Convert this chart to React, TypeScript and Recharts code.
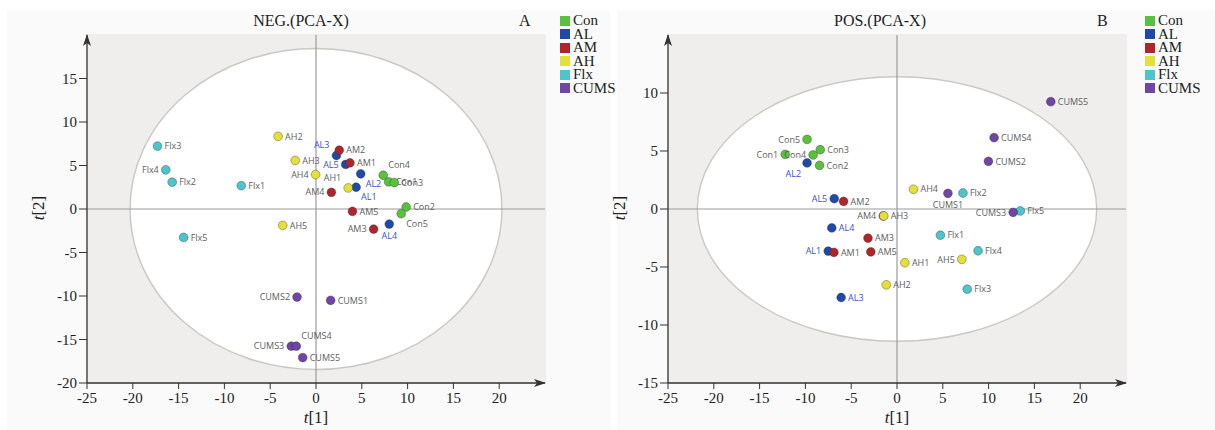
import React from 'react';
import { ScatterChart, Scatter, XAxis, YAxis, CartesianGrid, ReferenceArea, ReferenceLine } from 'recharts';

// ---------- categories / legend ----------
const groups = ['Con', 'AL', 'AM', 'AH', 'Flx', 'CUMS'];
const groupColors = ['#58c23c', '#1f4aa8', '#af252b', '#e4e03a', '#4cc5cb', '#6f46a6'];

// ---------- NEG (PCA-X) scores: [t1, t2] ----------
const negCon: [number, number][] = [[7.93, 3.12], [9.84, 0.23], [8.55, 3.04], [7.34, 3.88], [9.3, -0.54]];
const negAL: [number, number][] = [[4.38, 2.5], [4.88, 4.04], [2.23, 6.15], [8.0, -1.73], [3.24, 5.12]];
const negAM: [number, number][] = [[3.71, 5.31], [2.54, 6.77], [6.29, -2.31], [1.68, 1.92], [3.98, -0.27]];
const negAH: [number, number][] = [[3.52, 2.42], [-4.14, 8.35], [-2.27, 5.58], [-0.04, 3.96], [-3.63, -1.88]];
const negFlx: [number, number][] = [[-8.16, 2.69], [-15.7, 3.08], [-17.3, 7.23], [-16.4, 4.5], [-14.45, -3.27]];
const negCUMS: [number, number][] = [[1.6, -10.5], [-2.07, -10.12], [-2.7, -15.77], [-2.15, -15.77], [-1.45, -17.08]];

// label side for each point (r, l, tl, tr, br, b, bl)
const negConSide = ['r', 'r', 'r', 'tr', 'br'];
const negALSide = ['br', 'br', 'tl', 'b', 'l'];
const negAMSide = ['r', 'r', 'l', 'l', 'r'];
const negAHSide = ['tl', 'r', 'r', 'l', 'r'];
const negFlxSide = ['r', 'r', 'r', 'l', 'r'];
const negCUMSSide = ['r', 'l', 'l', 'tr', 'r'];

// ---------- POS (PCA-X) scores: [t1, t2] ----------
const posCon: [number, number][] = [[-12.2, 4.71], [-8.45, 3.76], [-8.38, 5.11], [-9.16, 4.66], [-9.82, 6.0]];
const posAL: [number, number][] = [[-7.51, -3.63], [-9.82, 3.97], [-6.1, -7.63], [-7.12, -1.63], [-6.85, 0.89]];
const posAM: [number, number][] = [[-6.89, -3.74], [-5.83, 0.66], [-3.17, -2.51], [-1.5, -0.6], [-2.86, -3.69]];
const posAH: [number, number][] = [[0.86, -4.63], [-1.17, -6.54], [-1.45, -0.6], [1.8, 1.7], [7.08, -4.34]];
const posFlx: [number, number][] = [[4.74, -2.26], [7.2, 1.38], [7.67, -6.91], [8.85, -3.6], [13.46, -0.17]];
const posCUMS: [number, number][] = [[5.56, 1.35], [9.98, 4.11], [12.68, -0.29], [10.6, 6.15], [16.79, 9.25]];

const posConSide = ['l', 'r', 'r', 'l', 'l'];
const posALSide = ['l', 'bl', 'r', 'r', 'l'];
const posAMSide = ['r', 'r', 'r', 'l', 'r'];
const posAHSide = ['r', 'r', 'r', 'r', 'l'];
const posFlxSide = ['r', 'r', 'r', 'r', 'r'];
const posCUMSSide = ['b', 'r', 'l', 'r', 'r'];

// ---------- axes ----------
const xTicks = [-25, -20, -15, -10, -5, 0, 5, 10, 15, 20];
const xDomain = [-25, 25];
const negYTicks = [-20, -15, -10, -5, 0, 5, 10, 15];
const negYDomain = [-20, 20];
const posYTicks = [-15, -10, -5, 0, 5, 10];
const posYDomain = [-15, 15];

// Hotelling T2 ellipse radii (t1, t2)
const negEllipse = [20.3, 18.45];
const posEllipse = [21.8, 11.4];

const build = (grp: string, pts: [number, number][], sides: string[]) =>
  pts.map((p, i) => ({ x: p[0], y: p[1], name: grp + (i + 1), side: sides[i] }));

const negSets = [
  build('Con', negCon, negConSide), build('AL', negAL, negALSide), build('AM', negAM, negAMSide),
  build('AH', negAH, negAHSide), build('Flx', negFlx, negFlxSide), build('CUMS', negCUMS, negCUMSSide),
];
const posSets = [
  build('Con', posCon, posConSide), build('AL', posAL, posALSide), build('AM', posAM, posAMSide),
  build('AH', posAH, posAHSide), build('Flx', posFlx, posFlxSide), build('CUMS', posCUMS, posCUMSSide),
];

const serif = '"Liberation Serif", "Times New Roman", serif';
const sans = '"Open Sans", "DejaVu Sans", sans-serif';

const makeShape = (color: string, labelColor: string) => (props: any) => {
  const { cx, cy, payload } = props;
  if (cx == null || cy == null) return <g />;
  let tx = cx + 7;
  let ty = cy + 3.2;
  let anchor: 'start' | 'end' | 'middle' = 'start';
  switch (payload.side) {
    case 'l': tx = cx - 7; anchor = 'end'; break;
    case 'tl': tx = cx - 7; ty = cy - 7; anchor = 'end'; break;
    case 'tr': tx = cx + 5; ty = cy - 7; break;
    case 'br': tx = cx + 5; ty = cy + 13; break;
    case 'bl': tx = cx - 6; ty = cy + 14; anchor = 'end'; break;
    case 'b': tx = cx; ty = cy + 15; anchor = 'middle'; break;
    default: break;
  }
  return (
    <g>
      <circle cx={cx} cy={cy} r={4.4} fill={color} stroke="rgba(40,40,40,0.45)" strokeWidth={0.8} />
      <text x={tx} y={ty} textAnchor={anchor} fontFamily={sans} fontSize={9} fill={labelColor}>
        {payload.name}
      </text>
    </g>
  );
};

const ellipseShape = (props: any) => {
  const { x, y, width, height } = props;
  return (
    <ellipse cx={x + width / 2} cy={y + height / 2} rx={width / 2} ry={height / 2}
      fill="#ffffff" stroke="#cbc7c3" strokeWidth={1.4} />
  );
};

const Panel = ({ sets, yTicks, yDomain, ell }: any) => (
  <ScatterChart width={560} height={430} margin={{ top: 35, right: 15, bottom: 0, left: 0 }}>
    <XAxis type="number" dataKey="x" domain={xDomain} ticks={xTicks} allowDataOverflow height={47}
      tickSize={6} tickMargin={3}
      tick={{ fontFamily: serif, fontSize: 15, fill: '#222' }}
      axisLine={{ stroke: '#333', strokeWidth: 1.3, markerEnd: 'url(#arrowEnd)' }}
      tickLine={{ stroke: '#333' }} />
    <YAxis type="number" dataKey="y" domain={yDomain} ticks={yTicks} allowDataOverflow width={87}
      tickSize={8} tickMargin={2}
      tick={{ fontFamily: serif, fontSize: 15, fill: '#222' }}
      axisLine={{ stroke: '#333', strokeWidth: 1.3, markerStart: 'url(#arrowStart)' }}
      tickLine={{ stroke: '#333' }} />
    <ReferenceArea x1={xDomain[0]} x2={xDomain[1]} y1={yDomain[0]} y2={yDomain[1]} fill="#efeeed" fillOpacity={1} stroke="none" />
    <ReferenceArea x1={-ell[0]} x2={ell[0]} y1={-ell[1]} y2={ell[1]} shape={ellipseShape} />
    <CartesianGrid stroke="#e2e0de" strokeWidth={1} fill="none" />
    <ReferenceLine x={0} stroke="#9a9a9a" strokeWidth={1.2} />
    <ReferenceLine y={0} stroke="#9a9a9a" strokeWidth={1.2} />
    {sets.map((d: any[], i: number) => (
      <Scatter key={groups[i]} name={groups[i]} data={d} isAnimationActive={false}
        shape={makeShape(groupColors[i], groups[i] === 'AL' ? '#3a4fd0' : '#5e5e5e')} />
    ))}
  </ScatterChart>
);

const Legend = ({ left }: { left: number }) => (
  <div style={{ position: 'absolute', left, top: 14, fontFamily: serif, fontSize: 15, lineHeight: '13.5px', color: '#222' }}>
    {groups.map((g, i) => (
      <div key={g} style={{ display: 'flex', alignItems: 'center', height: 13.5 }}>
        <div style={{ width: 10, height: 10, background: groupColors[i], marginRight: 3 }} />
        <span>{g}</span>
      </div>
    ))}
  </div>
);

const abs = (l: number, t: number, extra: any = {}) => ({ position: 'absolute' as const, left: l, top: t, ...extra });

export default function App() {
  return (
    <div style={{ position: 'absolute', left: 0, top: 0, width: 1215, height: 430, background: '#ffffff', overflow: 'hidden' }}>
      <svg width={0} height={0} style={{ position: 'absolute' }}>
        <defs>
          <marker id="arrowEnd" markerWidth={12} markerHeight={8} refX={11} refY={4} orient="auto" markerUnits="userSpaceOnUse">
            <path d="M0,0 L12,4 L0,8 L3,4 Z" fill="#333" />
          </marker>
          <marker id="arrowStart" markerWidth={12} markerHeight={8} refX={11} refY={4} orient="auto-start-reverse" markerUnits="userSpaceOnUse">
            <path d="M0,0 L12,4 L0,8 L3,4 Z" fill="#333" />
          </marker>
        </defs>
      </svg>
      <div style={abs(7, 10, { width: 603, height: 420, background: '#fafafa' })} />
      <div style={abs(617, 10, { width: 598, height: 420, background: '#fafafa' })} />

      <div style={abs(0, 0)}>
        <Panel sets={negSets} yTicks={negYTicks} yDomain={negYDomain} ell={negEllipse} />
      </div>
      <div style={abs(581, 0)}>
        <Panel sets={posSets} yTicks={posYTicks} yDomain={posYDomain} ell={posEllipse} />
      </div>

      <div style={abs(201, 12, { width: 200, textAlign: 'center', fontFamily: serif, fontSize: 16, color: '#222' })}>NEG.(PCA-X)</div>
      <div style={abs(519, 12, { fontFamily: serif, fontSize: 16, color: '#222' })}>A</div>
      <div style={abs(780, 12, { width: 200, textAlign: 'center', fontFamily: serif, fontSize: 16, color: '#222' })}>POS.(PCA-X)</div>
      <div style={abs(1097, 12, { fontFamily: serif, fontSize: 16, color: '#222' })}>B</div>

      <div style={abs(266, 408, { width: 100, textAlign: 'center', fontFamily: serif, fontSize: 17, color: '#222' })}><i>t</i>[1]</div>
      <div style={abs(847, 408, { width: 100, textAlign: 'center', fontFamily: serif, fontSize: 17, color: '#222' })}><i>t</i>[1]</div>
      <div style={abs(-11, 198, { width: 100, textAlign: 'center', fontFamily: serif, fontSize: 17, color: '#222', transform: 'rotate(-90deg)' })}><i>t</i>[2]</div>
      <div style={abs(570, 198, { width: 100, textAlign: 'center', fontFamily: serif, fontSize: 17, color: '#222', transform: 'rotate(-90deg)' })}><i>t</i>[2]</div>

      <Legend left={560} />
      <Legend left={1145} />
    </div>
  );
}
